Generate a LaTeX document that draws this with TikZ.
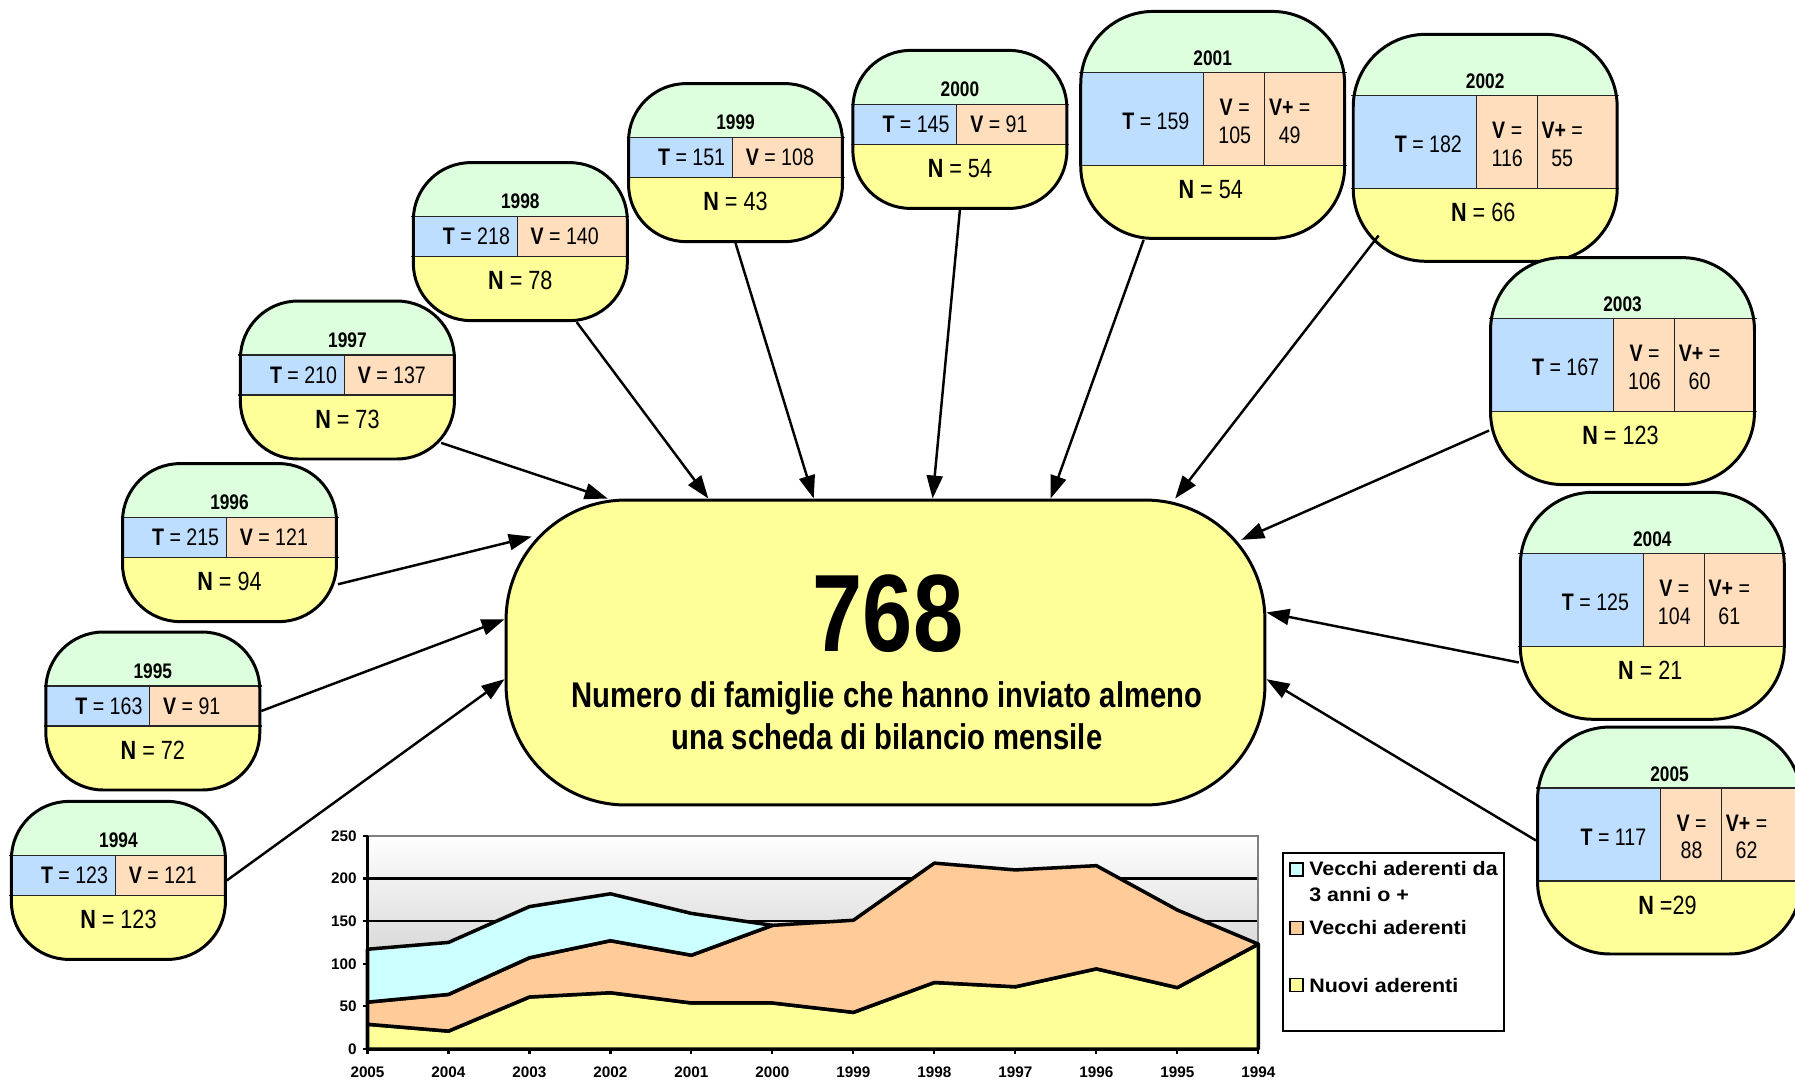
\documentclass[tikz,border=0pt]{standalone}
\usepackage{fontspec}
\usepackage{tikz}
\usetikzlibrary{arrows.meta}
\newfontfamily\narrowfont{Liberation Sans}[FakeStretch=0.82]
\newfontfamily\legendfont{Liberation Sans}[FakeStretch=1.1]
\newfontfamily\axisfont{Liberation Sans}
\definecolor{cgreen}{RGB}{221,255,221}
\definecolor{cblue}{RGB}{190,222,255}
\definecolor{cpeach}{RGB}{255,222,190}
\definecolor{cyellow}{RGB}{255,255,153}
\definecolor{ccyan}{RGB}{204,255,255}
\definecolor{corange}{RGB}{255,204,153}

% year box with T and V: name, x, y (top left), year, T, V, N
\newcommand{\smallbox}[7]{%
  \begin{scope}[shift={(#2,#3)}]
    \begin{scope}
      \clip[rounded corners=1.15cm] (0,0) rectangle (214,158);
      \fill[cgreen] (0,0) rectangle (214,54);
      \fill[cblue] (0,54) rectangle (104,94);
      \fill[cpeach] (104,54) rectangle (214,94);
      \fill[cyellow] (0,94) rectangle (214,158);
    \end{scope}
    \draw[cellline] (-2,54) -- (216,54) (-2,94) -- (216,94) (104,54) -- (104,94);
    \node[boxframe, rounded corners=1.15cm, minimum width=4.28cm, minimum height=3.16cm] (#1) at (107,79) {};
    \node[yearlbl] (#1y) at (107,39) {#4};
    \node[celltext, anchor=east] (#1t) at (97,74) {\textbf{T} = #5};
    \node[celltext, anchor=west] (#1v) at (117,74) {\textbf{V} = #6};
    \node[nlbl] (#1n) at (107,118) {\textbf{N} #7};
  \end{scope}}

% year box with T, V and V+: name, x, y, year, T, V, V+, N
\newcommand{\bigbox}[8]{%
  \begin{scope}[shift={(#2,#3)}]
    \begin{scope}
      \clip[rounded corners=1.45cm] (0,0) rectangle (264,227);
      \fill[cgreen] (0,0) rectangle (264,61);
      \fill[cblue] (0,61) rectangle (123,154);
      \fill[cpeach] (123,61) rectangle (264,154);
      \fill[cyellow] (0,154) rectangle (264,227);
    \end{scope}
    \draw[cellline] (-2,61) -- (266,61) (-2,154) -- (266,154) (123,61) -- (123,154) (184,61) -- (184,154);
    \node[boxframe, rounded corners=1.45cm, minimum width=5.28cm, minimum height=4.54cm] (#1) at (132,113.5) {};
    \node[yearlbl] (#1y) at (132,47) {#4};
    \node[celltext, anchor=east] (#1t) at (109,110) {\textbf{T} = #5};
    \node[celltext] (#1v) at (154,110) {\textbf{V} =\\#6};
    \node[celltext] (#1w) at (209,110) {\textbf{V+} =\\#7};
    \node[nlbl] (#1n) at (130,178) {\textbf{N} #8};
  \end{scope}}

\begin{document}
\begin{tikzpicture}[x=0.02cm, y=-0.02cm,
    every node/.style={inner sep=0pt},
    >={Triangle[length=0.46cm, width=0.32cm]},
    boxframe/.style={draw, line width=1.7pt},
    cellline/.style={line width=0.6pt, black!85},
    yearlbl/.style={font=\narrowfont\bfseries\fontsize{12}{14}\selectfont},
    celltext/.style={font=\narrowfont\fontsize{13.6}{15.7}\selectfont, align=center},
    nlbl/.style={font=\narrowfont\fontsize{15}{17}\selectfont},
    link/.style={->, line width=1.4pt},
    area/.style={line width=2pt, line join=round},
    axislbl/.style={font=\axisfont\bfseries\fontsize{8.7}{10}\selectfont},
    legendlbl/.style={font=\legendfont\bfseries\fontsize{11.1}{14.2}\selectfont}]
  \useasboundingbox (0,0) rectangle (1795,1080);

  % chart
  \begin{scope}[shift={(367.5,1049)}, x=1.62cm, y=0.017066cm]
    \shade[top color=white, bottom color=gray!55] (0,0) rectangle (11,250);
    \foreach \v in {50,100,150,200}
      \draw[line width=1.3pt] (0,\v) -- (11,\v);
    \draw[gray, line width=1.3pt] (0,250) -- (11,250) -- (11,0);
    \filldraw[area, fill=cyellow] (0,0) -- (0,29) -- (1,21) -- (2,61) -- (3,66) -- (4,54) -- (5,54) -- (6,43) -- (7,78) -- (8,73) -- (9,94) -- (10,72) -- (11,123) -- (11,0) -- cycle;
    \filldraw[area, fill=corange] (0,29) -- (0,55) -- (1,64) -- (2,107) -- (3,127) -- (4,110) -- (5,145) -- (6,151) -- (7,218) -- (8,210) -- (9,215) -- (10,163) -- (11,123)
      -- (10,72) -- (9,94) -- (8,73) -- (7,78) -- (6,43) -- (5,54) -- (4,54) -- (3,66) -- (2,61) -- (1,21) -- cycle;
    \filldraw[area, fill=ccyan] (0,55) -- (0,117) -- (1,125) -- (2,167) -- (3,182) -- (4,159) -- (5,145) -- (4,110) -- (3,127) -- (2,107) -- (1,64) -- cycle;
    \draw[line width=1.6pt] (0,250) -- (0,0) -- (11,0);
    \foreach \v in {0,50,...,250}{
      \draw[line width=1.2pt] (0,\v) -- ++(-0.1cm,0);
      \node[axislbl, anchor=east] (ylab\v) at ([xshift=-0.21cm]0,\v) {\v};
    }
    \foreach \yr [count=\i from 0] in {2005,2004,...,1994}{
      \draw[line width=1.2pt] (\i,0) -- ++(0,-0.1cm);
      \node[axislbl] (xlab\yr) at ([yshift=-0.46cm]\i,0) {\yr};
    }
  \end{scope}

  % legend
  \node[draw, line width=1.2pt, minimum width=4.42cm, minimum height=3.56cm] (legend) at (1393.5,942) {};
  \node[draw, line width=1pt, fill=ccyan, minimum size=0.26cm] (lcyan) at (1296.5,869.7) {};
  \node[draw, line width=1pt, fill=corange, minimum size=0.26cm] (lorange) at (1296.5,928) {};
  \node[draw, line width=1pt, fill=cyellow, minimum size=0.26cm] (lyellow) at (1296.5,985) {};
  \node[legendlbl, anchor=base west] (tcyan) at (1309,875) {Vecchi aderenti da};
  \node[legendlbl, anchor=base west] (tcyan2) at (1309,901) {3 anni o +};
  \node[legendlbl, anchor=base west] (torange) at (1309,934) {Vecchi aderenti};
  \node[legendlbl, anchor=base west] (tyellow) at (1309,992) {Nuovi aderenti};

  % total
  \node[boxframe, fill=cyellow, rounded corners=2.4cm, minimum width=15.18cm, minimum height=6.1cm] (main) at (885.5,652.5) {};
  \node[font=\narrowfont\bfseries\fontsize{62.6}{64}\selectfont, anchor=base] (count) at (888,651) {768};
  \node[font=\narrowfont\bfseries\fontsize{20.3}{23.3}\selectfont, anchor=base] (cap1) at (887,707) {Numero di famiglie che hanno inviato almeno};
  \node[font=\narrowfont\bfseries\fontsize{20.3}{23.3}\selectfont, anchor=base] (cap2) at (887,749) {una scheda di bilancio mensile};

  % years
  \smallbox{b1994}{11.4}{801.4}{1994}{123}{121}{= 123}
  \smallbox{b1995}{45.8}{632}{1995}{163}{91}{= 72}
  \smallbox{b1996}{122.5}{463.6}{1996}{215}{121}{= 94}
  \smallbox{b1997}{240.4}{301}{1997}{210}{137}{= 73}
  \smallbox{b1998}{413.3}{162.6}{1998}{218}{140}{= 78}
  \smallbox{b1999}{628.5}{83.6}{1999}{151}{108}{= 43}
  \smallbox{b2000}{852.9}{50.4}{2000}{145}{91}{= 54}
  \bigbox{b2001}{1080.7}{11.4}{2001}{159}{105}{49}{= 54}
  \bigbox{b2002}{1353.2}{34.3}{2002}{182}{116}{55}{= 66}
  \bigbox{b2003}{1490.5}{257.6}{2003}{167}{106}{60}{= 123}
  \bigbox{b2004}{1520.3}{492.3}{2004}{125}{104}{61}{= 21}
  \bigbox{b2005}{1537.5}{727}{2005}{117}{88}{62}{=29}

  \draw[link] (b1994.east) -- (main.184.8);
  \draw[link] (b1995.east) -- (main.175);
  \draw[link, shorten >=-0.56cm] (b1996.-21.2) -- (main.164.8);
  \draw[link, shorten <=-0.31cm] (b1997.-32.8) -- (main.151.1);
  \draw[link] (b1998.-55.6) -- (main.139);
  \draw[link] (b1999.south) -- (main.115.5);
  \draw[link] (b2000.south) -- (main.73.5);
  \draw[link] (b2001.-121.1) -- (main.43.3);
  \draw[link, shorten <=-0.69cm] (b2002.-138.3) -- (main.28.9);
  \draw[link, shorten >=-0.55cm] (b2003.204) -- (main.18);
  \draw[link] (b2004.203) -- (main.6.5);
  \draw[link] (b2005.west) -- (main.-4.8);
\end{tikzpicture}
\end{document}
